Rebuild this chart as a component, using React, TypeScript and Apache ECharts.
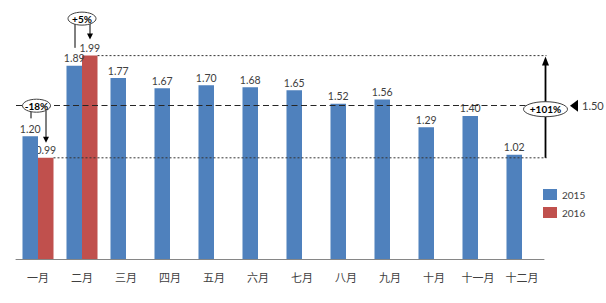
import React, { useEffect, useRef } from "react";
import * as echarts from "echarts";

const months = ["一月", "二月", "三月", "四月", "五月", "六月", "七月", "八月", "九月", "十月", "十一月", "十二月"];
const values2015 = [1.2, 1.89, 1.77, 1.67, 1.7, 1.68, 1.65, 1.52, 1.56, 1.29, 1.4, 1.02];
const values2016: (number | null)[] = [0.99, 1.99, null, null, null, null, null, null, null, null, null, null];
const seriesNames = ["2015", "2016"];
const referenceValue = 1.5;
const referenceLabel = "1.50";
const changeLabels = ["-18%", "+5%"];
const totalChangeLabel = "+101%";
const lowValue = 0.99;
const highValue = 1.99;

const BLUE = "#4F81BD";
const RED = "#C0504D";
const TEXT = "#404040";
const NUM_FONT = "Lato, 'Liberation Sans', sans-serif";

export default function App() {
  const ref = useRef<HTMLDivElement>(null);
  useEffect(() => {
    if (!ref.current) return;
    const chart = echarts.init(ref.current, undefined, { renderer: "svg" });
    const labelCfg = {
      show: true,
      position: "top",
      distance: 2,
      color: TEXT,
      fontSize: 10.5,
      fontFamily: NUM_FONT,
      formatter: (p: any) => (p.value == null ? "" : Number(p.value).toFixed(2)),
    };
    chart.setOption({
      animation: false,
      backgroundColor: "#ffffff",
      grid: { left: 16, right: 62, top: 3.5, bottom: 44 },
      legend: {
        data: seriesNames,
        orient: "vertical",
        left: 543,
        top: 189,
        padding: 0,
        itemWidth: 14,
        itemHeight: 11,
        itemGap: 7,
        icon: "rect",
        textStyle: { color: TEXT, fontSize: 10, fontFamily: NUM_FONT },
      },
      xAxis: {
        type: "category",
        data: months,
        axisTick: { show: false },
        axisLine: { lineStyle: { color: "#868686", width: 1 } },
        axisLabel: {
          color: TEXT,
          fontSize: 11,
          margin: 12,
          fontFamily: "'Noto Sans CJK SC', sans-serif",
        },
      },
      yAxis: { type: "value", min: 0, max: 2.5, show: false, splitLine: { show: false } },
      series: [
        {
          name: seriesNames[0],
          type: "bar",
          data: values2015,
          itemStyle: { color: BLUE },
          barGap: "0%",
          barCategoryGap: "29.5%",
          label: labelCfg,
          z: 3,
        },
        {
          name: seriesNames[1],
          type: "bar",
          data: values2016,
          itemStyle: { color: RED },
          barGap: "0%",
          barCategoryGap: "29.5%",
          label: labelCfg,
          z: 2,
          markLine: {
            silent: true,
            symbol: "none",
            z: 5,
            label: { show: false },
            lineStyle: { color: "#262626", width: 1.1, type: [6, 3.5] },
            data: [{ yAxis: referenceValue }],
          },
        },
      ],
    });

    const p = (i: number, v: number) =>
      chart.convertToPixel({ xAxisIndex: 0, yAxisIndex: 0 }, [i, v]) as number[];
    const x0 = p(0, 0)[0];
    const cw = p(1, 0)[0] - x0;
    const barW = (cw * (1 - 0.295)) / 2;
    const gridRight = p(11, 0)[0] + cw / 2;
    const y = (v: number) => p(0, v)[1];
    const x = (i: number) => p(i, 0)[0];

    const g: any[] = [];
    const line = (x1: number, y1: number, x2: number, y2: number, style: any) =>
      g.push({ type: "line", z: 10, shape: { x1, y1, x2, y2 }, style: { stroke: "#000", lineWidth: 1, ...style } });
    const arrowDown = (ax: number, y1: number, tip: number) => {
      line(ax, y1, ax, tip - 4, { stroke: "#000", lineWidth: 1 });
      g.push({ type: "polygon", z: 10, shape: { points: [[ax - 3, tip - 6], [ax + 3, tip - 6], [ax, tip]] }, style: { fill: "#000" } });
    };
    const bubble = (cx: number, cy: number, rx: number, ry: number, text: string) => {
      g.push({ type: "ellipse", z: 11, shape: { cx, cy, rx, ry }, style: { fill: "#fff", stroke: TEXT, lineWidth: 1 } });
      g.push({
        type: "text",
        z: 12,
        x: cx,
        y: cy,
        style: { text, align: "center", verticalAlign: "middle", fontSize: 10, fontWeight: "bold", fontFamily: NUM_FONT, fill: "#000" },
      });
    };

    const arrowX = gridRight + 1.5;
    // dotted lines for low and high values
    line(x(0) + barW, y(lowValue), arrowX + 1, y(lowValue), { stroke: "#333", lineDash: [2, 2] });
    line(x(1) + barW, y(highValue), arrowX + 1, y(highValue), { stroke: "#333", lineDash: [2, 2] });
    // big arrow
    const topTip = y(highValue) + 1;
    line(arrowX, y(lowValue), arrowX, topTip + 6, { stroke: "#000", lineWidth: 1.8 });
    g.push({ type: "polygon", z: 10, shape: { points: [[arrowX - 3.5, topTip + 9], [arrowX + 3.5, topTip + 9], [arrowX, topTip]] }, style: { fill: "#000" } });
    bubble(arrowX, y(referenceValue) + 3.5, 22, 7.5, totalChangeLabel);
    // reference marker
    const ry = y(referenceValue);
    g.push({ type: "polygon", z: 10, shape: { points: [[gridRight + 26, ry], [gridRight + 34, ry - 6], [gridRight + 34, ry + 6]] }, style: { fill: "#000" } });
    g.push({
      type: "text",
      z: 10,
      x: gridRight + 38,
      y: ry,
      style: { text: referenceLabel, align: "left", verticalAlign: "middle", fontSize: 11, fontFamily: NUM_FONT, fill: TEXT },
    });

    // -18% annotation (Jan)
    const c0y = y(referenceValue);
    line(x(0) - 7, c0y + 5, x(0) - 7, y(values2015[0]) - 18, { stroke: "#000" });
    arrowDown(x(0) + 8, c0y + 5, y(values2016[0] as number) - 15);
    bubble(x(0) - 1.5, c0y, 14, 6.5, changeLabels[0]);

    // +5% annotation (Feb)
    const c1y = y(highValue) - 37;
    line(x(1) - 7, c1y + 5, x(1) - 7, y(values2015[1]) - 18, { stroke: "#000" });
    arrowDown(x(1) + 8, c1y + 5, y(values2016[1] as number) - 16);
    bubble(x(1), c1y, 14, 6.5, changeLabels[1]);

    chart.setOption({ graphic: g });

    return () => chart.dispose();
  }, []);
  return <div ref={ref} style={{ width: 606, height: 303, position: "fixed", left: 0, top: 0 }} />;
}
